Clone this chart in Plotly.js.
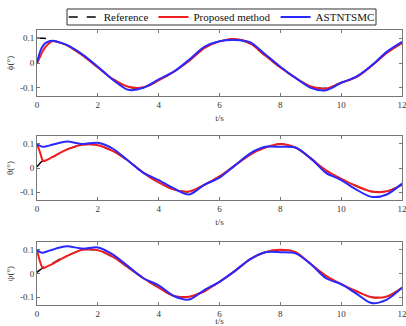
<!DOCTYPE html>
<html><head><meta charset="utf-8">
<script src="https://cdn.plot.ly/plotly-3.0.1.min.js"></script>
<style>html,body{margin:0;padding:0;background:#fff}#c{width:406px;height:326px}</style>
</head><body><div id="c"></div>
<script>
const t = [0,0.1,0.2,0.3,0.5,0.75,1,1.5,2,2.5,3,3.5,4,4.5,5,5.5,6,6.5,7,7.5,8,8.5,9,9.5,10,10.5,11,11.5,12];
// phi
const phiRef = [0.1,0.1,0.1,0.099,0.09,0.082,0.07,0.032,-0.016,-0.065,-0.097,-0.1,-0.07,-0.035,0.01,0.062,0.088,0.097,0.078,0.03,-0.018,-0.06,-0.095,-0.102,-0.078,-0.055,-0.01,0.043,0.08];
const phiProp = [0,0.025,0.05,0.068,0.088,0.082,0.07,0.03,-0.018,-0.065,-0.096,-0.098,-0.07,-0.035,0.008,0.06,0.087,0.097,0.08,0.03,-0.018,-0.06,-0.095,-0.103,-0.08,-0.057,-0.012,0.04,0.08];
const phiAst = [0,0.045,0.07,0.082,0.09,0.083,0.072,0.034,-0.015,-0.068,-0.108,-0.1,-0.066,-0.035,0.013,0.065,0.088,0.093,0.084,0.035,-0.015,-0.06,-0.1,-0.11,-0.08,-0.055,-0.01,0.045,0.085];
// theta
const thRef = [0.005,0.02,0.032,0.036,0.045,0.062,0.078,0.097,0.095,0.07,0.03,-0.02,-0.06,-0.09,-0.098,-0.07,-0.035,0.01,0.055,0.085,0.1,0.085,0.04,-0.01,-0.045,-0.075,-0.098,-0.097,-0.07];
const thProp = [0.1,0.065,0.03,0.032,0.045,0.062,0.078,0.097,0.095,0.07,0.03,-0.02,-0.06,-0.09,-0.098,-0.07,-0.035,0.01,0.055,0.085,0.1,0.085,0.04,-0.01,-0.045,-0.075,-0.098,-0.097,-0.07];
const thAst = [0.1,0.092,0.088,0.09,0.097,0.105,0.11,0.1,0.105,0.08,0.03,-0.02,-0.05,-0.085,-0.11,-0.07,-0.04,0.01,0.06,0.088,0.088,0.085,0.04,-0.02,-0.05,-0.09,-0.12,-0.11,-0.065];
// psi
const psRef = [0.005,0.015,0.025,0.032,0.042,0.06,0.075,0.1,0.098,0.07,0.025,-0.02,-0.06,-0.095,-0.098,-0.075,-0.035,0.01,0.06,0.09,0.1,0.09,0.04,-0.01,-0.045,-0.075,-0.1,-0.097,-0.06];
const psProp = [0.1,0.05,0.022,0.028,0.04,0.058,0.075,0.1,0.098,0.07,0.025,-0.02,-0.06,-0.095,-0.098,-0.075,-0.035,0.01,0.06,0.09,0.1,0.09,0.04,-0.01,-0.045,-0.075,-0.1,-0.097,-0.06];
const psAst = [0.1,0.09,0.088,0.092,0.1,0.11,0.115,0.105,0.11,0.08,0.03,-0.02,-0.05,-0.095,-0.11,-0.07,-0.035,0.01,0.06,0.09,0.09,0.085,0.04,-0.02,-0.045,-0.085,-0.125,-0.11,-0.06];

const names = ['Reference','Proposed method','ASTNTSMC'];
const yTitles = ['\u03D5(\u00B0)','\u03B8(\u00B0)','\u03C8(\u00B0)'];
const xTicks = [0,2,4,6,8,10,12];
const yTicks = [-0.1,0,0.1];
const yTickText = ['-0.1','0','0.1'];

const groups = [[phiRef,phiProp,phiAst],[thRef,thProp,thAst],[psRef,psProp,psAst]];
const styles = [
  {color:'#000000', width:1.5, dash:'dash'},
  {color:'rgb(240,30,30)', width:2},
  {color:'rgb(40,40,255)', width:2}
];
const traces = [];
groups.forEach((g,i)=>{
  [0,1,2].forEach(k=>{
    traces.push({x:t, y:g[k], type:'scatter', mode:'lines', name:names[k],
      line:Object.assign({shape:'spline', smoothing:0.8}, styles[k]),
      xaxis:'x'+(i?i+1:''), yaxis:'y'+(i?i+1:''), showlegend:i===0});
  });
});

const font = {family:'Liberation Serif, Times New Roman, serif', color:'#333', size:9};
const domains = [[0.7055,0.908],[0.3865,0.5828],[0.0644,0.2577]];
const layout = {
  width:406, height:326,
  margin:{l:37,r:4,t:0,b:0,autoexpand:false},
  paper_bgcolor:'#fff', plot_bgcolor:'#fff',
  font:font,
  showlegend:true,
  legend:{orientation:'h', xref:'container', yref:'container', x:0.157, y:0.948, xanchor:'left', yanchor:'middle',
    borderwidth:0, bgcolor:'rgba(0,0,0,0)',
    font:{family:font.family, size:11, color:'#111'}, traceorder:'normal', itemwidth:30, tracegroupgap:0},
  shapes:[{type:'rect', xref:'paper', yref:'paper', x0:0.0822, x1:0.9288, y0:0.9233, y1:0.9724,
    line:{color:'#333', width:1}, fillcolor:'rgba(0,0,0,0)', layer:'below'}]
};
domains.forEach((d,i)=>{
  const s = i?String(i+1):'';
  layout['xaxis'+s] = {domain:[0,1], anchor:'y'+s, range:[0,12], tickvals:xTicks, ticktext:xTicks.map(String),
    ticks:'inside', ticklen:3, tickcolor:'#777', showline:true, linecolor:'#777', linewidth:1, mirror:'ticks',
    showgrid:false, zeroline:false, tickfont:font, ticklabeloverflow:'allow',
    title:{text:'t/s', font:font, standoff:i===2?10:5}};
  layout['yaxis'+s] = {domain:d, anchor:'x'+s, range:[-0.133,0.133], tickvals:yTicks, ticktext:yTickText,
    ticks:'inside', ticklen:3, tickcolor:'#777', showline:true, linecolor:'#777', linewidth:1, mirror:'ticks',
    showgrid:false, zeroline:false, tickfont:font, title:{text:yTitles[i], font:font, standoff:4}};
});
Plotly.newPlot('c', traces, layout, {displayModeBar:false, staticPlot:true});
</script></body></html>
